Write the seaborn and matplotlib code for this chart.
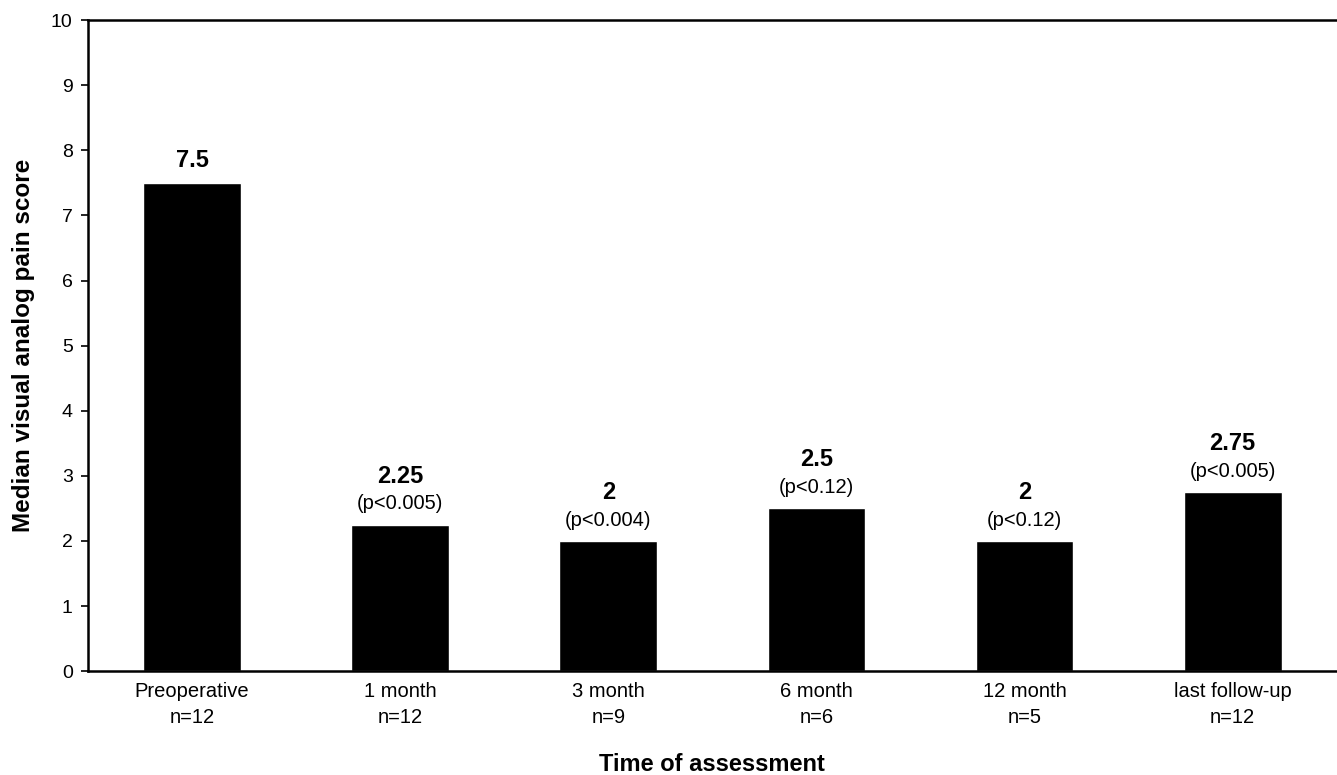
import numpy as np
import pandas as pd
import seaborn as sns
import matplotlib.pyplot as plt

# data
categories = ["Preoperative\nn=12", "1 month\nn=12", "3 month\nn=9",
              "6 month\nn=6", "12 month\nn=5", "last follow-up\nn=12"]
medians = [7.5, 2.25, 2, 2.5, 2, 2.75]
value_labels = ["7.5", "2.25", "2", "2.5", "2", "2.75"]
p_labels = ["", "(p<0.005)", "(p<0.004)", "(p<0.12)", "(p<0.12)", "(p<0.005)"]

df = pd.DataFrame({"time": categories, "score": medians})

sns.set_style("white")
plt.rcParams['font.family'] = ['Liberation Sans', 'DejaVu Sans']
plt.rcParams['text.color'] = 'black'
plt.rcParams['axes.labelcolor'] = 'black'
plt.rcParams['xtick.color'] = 'black'
plt.rcParams['ytick.color'] = 'black'

fig = plt.figure(figsize=(13.37, 7.75), dpi=100)
ax = fig.add_axes([0.0658, 0.134, 0.934, 0.840])

sns.barplot(data=df, x="time", y="score", color="black", width=0.47,
            saturation=1, ax=ax)

for i, (v, lab, p) in enumerate(zip(medians, value_labels, p_labels)):
    if p:
        ax.annotate(p, (i, v), xytext=(0, 15), textcoords="offset points",
                    ha="center", va="center", fontsize=14.5)
        ax.annotate(lab, (i, v), xytext=(0, 35), textcoords="offset points",
                    ha="center", va="center", fontsize=17, fontweight="bold")
    else:
        ax.annotate(lab, (i, v), xytext=(0, 16), textcoords="offset points",
                    ha="center", va="center", fontsize=17, fontweight="bold")

ax.set_ylim(0, 10)
ax.set_xlim(-0.5, 5.5)
ax.set_yticks(range(0, 11))
ax.tick_params(axis="y", length=5, width=1.2, labelsize=14, color="black",
               labelcolor="black", left=True, pad=6)
ax.tick_params(axis="x", length=0, labelsize=14.5, labelcolor="black", pad=8)
for t in ax.get_xticklabels():
    t.set_linespacing(1.45)
for s in ["left", "bottom", "top"]:
    ax.spines[s].set_color("black")
    ax.spines[s].set_linewidth(1.8)
ax.spines["right"].set_visible(False)

ax.set_ylabel("Median visual analog pain score", fontsize=17.5,
              fontweight="bold", va="center", color="black")
ax.yaxis.set_label_coords(-0.052, 0.5)
ax.set_xlabel("Time of assessment", fontsize=17, fontweight="bold",
              va="center", color="black")
ax.xaxis.set_label_coords(0.5, -0.144)

fig.savefig("out.png", dpi=100)
